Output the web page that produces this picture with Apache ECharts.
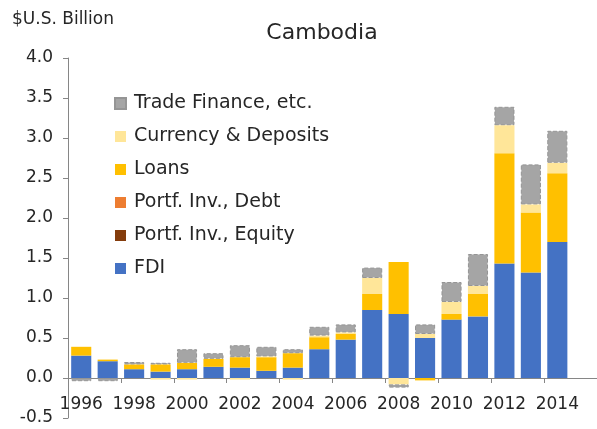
<!DOCTYPE html>
<html>
<head>
<meta charset="utf-8">
<script src="https://cdn.jsdelivr.net/npm/echarts@6/dist/echarts.min.js"></script>
<style>
  html, body { margin: 0; padding: 0; background: #fff; }
  #chart { width: 597px; height: 429px; }
</style>
</head>
<body>
<div id="chart"></div>
<script>
// years (2015 left empty, as in the original plot area)
var years = ['1996', '1997', '1998', '1999', '2000', '2001', '2002', '2003', '2004', '2005',
  '2006', '2007', '2008', '2009', '2010', '2011', '2012', '2013', '2014', '2015']

// $U.S. billion
var fdi = [0.28, 0.21, 0.11, 0.08, 0.11, 0.14, 0.13, 0.09, 0.13, 0.36,
  0.48, 0.85, 0.80, 0.50, 0.73, 0.77, 1.43, 1.32, 1.70, null]
var equity = [0, 0, 0, 0, 0, 0, 0, 0, 0, 0, 0, 0, 0, 0, 0, 0, 0, 0, 0, null]
var debt = [0, 0, 0, 0, 0, 0, 0, 0, 0, 0, 0, 0, 0, 0, 0, 0, 0, 0, 0, null]
var loans = [0.11, 0.02, 0.06, 0.09, 0.08, 0.10, 0.13, 0.17, 0.18, 0.15,
  0.07, 0.20, 0.65, -0.03, 0.07, 0.28, 1.38, 0.75, 0.86, null]
var currency = [0, 0, 0, -0.02, -0.02, 0, -0.02, 0.01, -0.02, 0.02,
  0.02, 0.20, -0.08, 0.05, 0.15, 0.10, 0.35, 0.10, 0.13, null]
var tradeFinance = [-0.04, -0.04, 0.03, 0.02, 0.17, 0.07, 0.15, 0.12, 0.05, 0.11,
  0.10, 0.13, -0.04, 0.12, 0.25, 0.40, 0.23, 0.50, 0.40, null]

var font = 'DejaVu Sans'
var textColor = '#262626'
var chart = echarts.init(document.getElementById('chart'))

function bar(name, data, color, extra) {
  var s = {
    name: name,
    type: 'bar',
    stack: 'total',
    data: data,
    barCategoryGap: '24%',
    itemStyle: { color: color },
    emphasis: { disabled: true },
  }
  if (extra) s.itemStyle = Object.assign(s.itemStyle, extra)
  return s
}

var option = {
  animation: false,
  textStyle: { fontFamily: font },
  title: [
    {
      text: '$U.S. Billion',
      left: 7,
      top: 6,
      textStyle: { fontFamily: font, fontSize: 17, fontWeight: 'normal', color: textColor },
    },
    {
      text: 'Cambodia',
      left: 317,
      textAlign: 'center',
      top: 17,
      textStyle: { fontFamily: font, fontSize: 22, fontWeight: 'normal', color: textColor },
    },
  ],
  legend: {
    orient: 'vertical',
    left: 109,
    top: 89,
    itemWidth: 11,
    itemHeight: 11,
    itemGap: 14,
    icon: 'rect',
    data: ['Trade Finance, etc.', 'Currency & Deposits', 'Loans',
      'Portf. Inv., Debt', 'Portf. Inv., Equity', 'FDI'],
    textStyle: { fontFamily: font, fontSize: 19, lineHeight: 18, color: textColor, padding: [0, 0, 0, 3] },
  },
  grid: {
    left: 68,
    right: 0,
    top: 58,
    bottom: 11,
    containLabel: false,
    outerBoundsMode: 'none',
  },
  xAxis: {
    type: 'category',
    data: years,
    axisLine: { onZero: true, lineStyle: { color: '#868686' } },
    axisTick: { show: true, length: 5, lineStyle: { color: '#868686' } },
    axisLabel: {
      interval: 1,
      margin: -22,
      fontFamily: font,
      fontSize: 17,
      color: textColor,
    },
  },
  yAxis: {
    type: 'value',
    min: -0.5,
    max: 4,
    interval: 0.5,
    splitLine: { show: false },
    axisLine: { show: true, lineStyle: { color: '#868686' } },
    axisTick: { show: true, length: 5, lineStyle: { color: '#868686' } },
    axisLabel: {
      margin: 15,
      fontFamily: font,
      fontSize: 17,
      color: textColor,
      formatter: function (v) { return v.toFixed(1) },
    },
  },
  series: [
    bar('FDI', fdi, '#4472C4'),
    bar('Portf. Inv., Equity', equity, '#843C0C'),
    bar('Portf. Inv., Debt', debt, '#ED7D31'),
    bar('Loans', loans, '#FFC000'),
    bar('Currency & Deposits', currency, '#FFE699'),
    bar('Trade Finance, etc.', tradeFinance, '#A5A5A5',
      { borderColor: '#959595', borderWidth: 1, borderType: 'dashed' }),
  ],
}

chart.setOption(option)
</script>
</body>
</html>
